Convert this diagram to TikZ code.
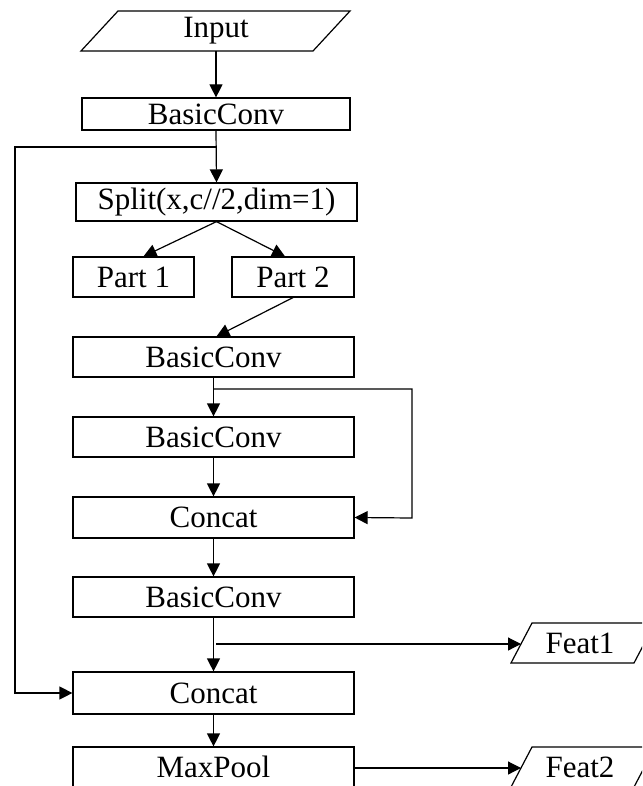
\documentclass[tikz,border=0pt]{standalone}
\usepackage{fontspec}
\setmainfont{Liberation Serif}
\usetikzlibrary{arrows.meta}
\begin{document}
\begin{tikzpicture}[x=1pt,y=-1pt,
  ln/.style={line width=1.2pt},
  box/.style={draw, line width=1.2pt, inner sep=0pt, minimum height=40pt, minimum width=281pt, font=\fontsize{31}{31}\selectfont},
  lbl/.style={inner sep=0pt, minimum height=40pt, font=\fontsize{31}{31}\selectfont},
  arr/.style={line width=1.2pt, -{Triangle[length=13pt,width=13pt]}}
]
\useasboundingbox (0,0) rectangle (642,786);
\clip (0,0) rectangle (642,786);
% input parallelogram
\draw[ln] (81,51) -- (118,11) -- (350,11) -- (313,51) -- cycle;
\node[lbl] (input) at (216,31) {Input};
\node[box, minimum width=268pt, minimum height=32pt] (bc1) at (216,114) {BasicConv};
\node[box, minimum width=281pt, minimum height=38pt] (split) at (216.5,202) {Split(x,c//2,dim=1)};
\node[box, minimum width=121pt] (p1) at (133.5,277) {Part 1};
\node[box, minimum width=122pt] (p2) at (293,277) {Part 2};
\node[box] (bc2) at (213.5,357) {BasicConv};
\node[box] (bc3) at (213.5,437) {BasicConv};
\node[box, minimum height=41pt] (cat1) at (213.5,517.5) {Concat};
\node[box] (bc4) at (213.5,597) {BasicConv};
\node[box, minimum height=42pt] (cat2) at (213.5,693) {Concat};
\node[box] (mp) at (213.5,767) {MaxPool};
% feature outputs
\draw[ln] (511,663) -- (532,623) -- (655,623) -- (634,663) -- cycle;
\node[lbl] (f1) at (580,643) {Feat1};
\draw[ln] (511,787) -- (532,747) -- (655,747) -- (634,787) -- cycle;
\node[lbl] (f2) at (580,767) {Feat2};
\coordinate (f1in) at (521,644);
\coordinate (f2in) at (521,768);
% connectors
\draw[arr] (input.south) -- (bc1.north);
\draw[arr] (bc1.south) -- (split.north);
\coordinate (b1) at (216,147);
\draw[arr] (b1) -- (15,147) -- (15,693) -- (cat2.west);
\draw[arr] (split.south) -- ([xshift=10pt]p1.north);
\draw[arr] (split.south) -- ([xshift=-8pt]p2.north);
\draw[arr] (p2.south) -- ([xshift=3pt]bc2.north);
\draw[arr] (bc2.south) -- (bc3.north);
\coordinate (b2) at (213.5,389);
\draw[arr] (b2) -- (412,389) -- (412,518) -- (cat1.east);
\draw[arr] (bc3.south) -- (cat1.north);
\draw[arr] (cat1.south) -- (bc4.north);
\draw[arr] (bc4.south) -- (cat2.north);
\coordinate (b3) at (216,644);
\draw[arr] (b3) -- (f1in);
\draw[arr] (cat2.south) -- (mp.north);
\draw[arr] (mp.east |- f2in) -- (f2in);
\end{tikzpicture}
\end{document}
